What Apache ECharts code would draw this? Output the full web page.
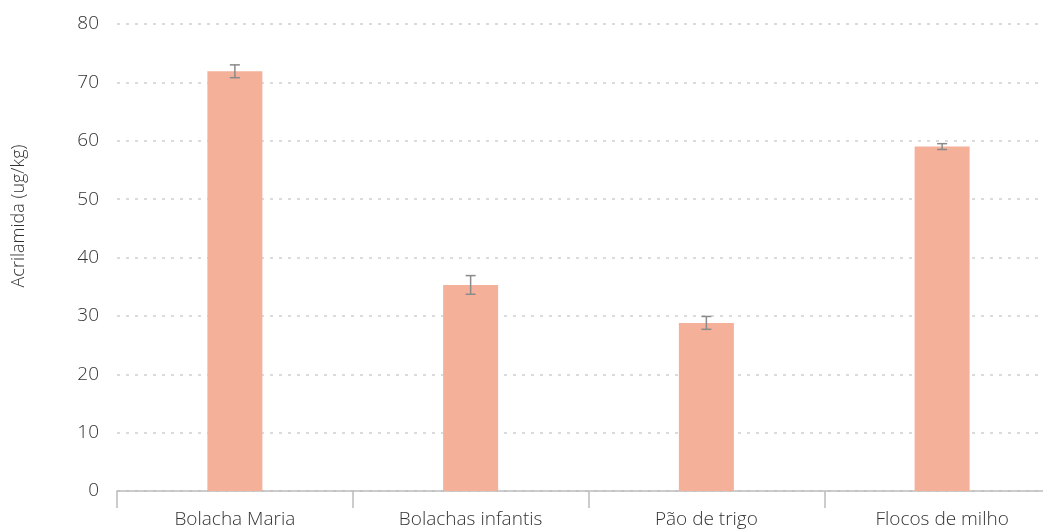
<!DOCTYPE html>
<html><head><meta charset="utf-8">
<script src="https://cdn.jsdelivr.net/npm/echarts@6/dist/echarts.min.js"></script>
<style>html,body{margin:0;padding:0;background:#fff}#c{width:1043px;height:530px}</style>
</head><body><div id="c"></div>
<script>
const categories = ['Bolacha Maria', 'Bolachas infantis', 'Pão de trigo', 'Flocos de milho'];
const values = [71.9, 35.3, 28.8, 59.0];
const errors = [1.1, 1.6, 1.1, 0.5];
const yTicks = { min: 0, max: 80, interval: 10 };
const yTitle = 'Acrilamida (ug/kg)';

const chart = echarts.init(document.getElementById('c'));
const font = 'Open Sans';
chart.setOption({
  animation: false,
  grid: { left: 117, width: 943, top: 24, height: 467, containLabel: false, outerBoundsMode: 'none' },
  xAxis: {
    type: 'category', data: categories,
    axisLine: { lineStyle: { color: '#bcbcbc', width: 1.5 } },
    axisTick: { show: true, length: 17, lineStyle: { color: '#bcbcbc', width: 1.5 } },
    axisLabel: { color: '#333', fontSize: 19, fontFamily: font, fontWeight: 300, margin: 19 }
  },
  yAxis: {
    type: 'value', min: yTicks.min, max: yTicks.max, interval: yTicks.interval,
    axisLine: { show: false }, axisTick: { show: false },
    axisLabel: { color: '#333', fontSize: 19, fontFamily: font, fontWeight: 300, margin: 18 },
    splitLine: { show: true, lineStyle: { color: '#d0d0d0', type: [3, 6], width: 1.5 } }
  },
  graphic: [{
    type: 'text', x: 19, y: 216, rotation: Math.PI / 2,
    style: { text: yTitle, fill: '#333', font: '300 18px "Open Sans"', align: 'center', verticalAlign: 'middle' }
  }],
  series: [{
    type: 'bar', data: values, barWidth: 55,
    itemStyle: { color: '#f5b099' }
  }, {
    type: 'custom',
    data: values.map((v, i) => [i, v - errors[i], v + errors[i]]),
    renderItem: function (params, api) {
      const lo = api.coord([api.value(0), api.value(1)]);
      const hi = api.coord([api.value(0), api.value(2)]);
      const w = 5;
      const st = { stroke: '#8a8a8a', lineWidth: 1.5 };
      return { type: 'group', children: [
        { type: 'line', shape: { x1: lo[0], y1: lo[1], x2: hi[0], y2: hi[1] }, style: st },
        { type: 'line', shape: { x1: lo[0] - w, y1: lo[1], x2: lo[0] + w, y2: lo[1] }, style: st },
        { type: 'line', shape: { x1: hi[0] - w, y1: hi[1], x2: hi[0] + w, y2: hi[1] }, style: st }
      ]};
    },
    z: 5
  }]
});
</script></body></html>
